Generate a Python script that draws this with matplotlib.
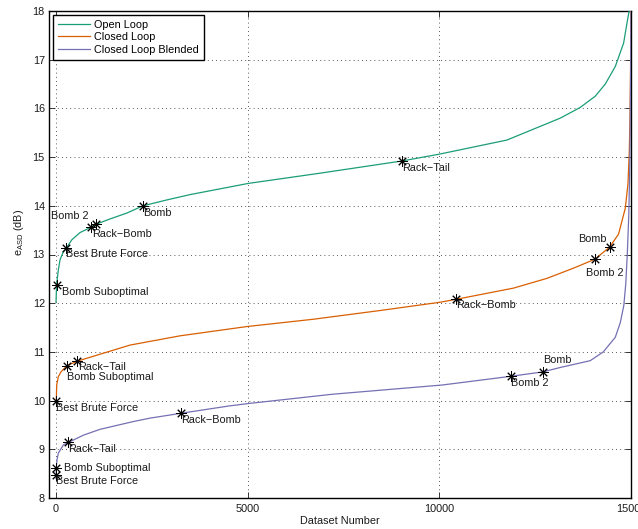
import matplotlib
matplotlib.use("Agg")
import matplotlib.pyplot as plt

plt.rcParams["font.family"] = ["Liberation Sans", "DejaVu Sans"]
plt.rcParams["mathtext.fontset"] = "custom"
plt.rcParams["mathtext.rm"] = "Liberation Sans"
plt.rcParams["mathtext.it"] = "Liberation Sans:italic"

# Sorted error curves (dataset number vs e_ASD in dB)
open_x = [0, 15, 60, 104, 191, 269, 410, 626, 914, 1044, 1409, 1845, 2271, 2889,
          3497, 5019, 6890, 9023, 9996, 11763, 13154, 13676, 14067, 14329, 14590,
          14807, 14895, 14955, 15000]
open_y = [12.02, 12.38, 12.68, 12.89, 13.06, 13.13, 13.30, 13.45, 13.56, 13.62,
          13.73, 13.85, 14.00, 14.12, 14.23, 14.46, 14.67, 14.92, 15.06, 15.35,
          15.80, 16.02, 16.25, 16.50, 16.86, 17.34, 17.75, 18.02, 19.5]

closed_x = [0, 10, 18, 60, 130, 287, 556, 1931, 3236, 4974, 6707, 8456, 10022,
            10440, 11936, 12807, 13502, 14050, 14441, 14676, 14851, 14921, 14955,
            14974, 14989, 14997]
closed_y = [9.96, 10.08, 10.32, 10.49, 10.59, 10.72, 10.81, 11.14, 11.33, 11.52,
            11.67, 11.85, 12.02, 12.08, 12.31, 12.51, 12.72, 12.90, 13.15, 13.42,
            13.95, 14.45, 15.1, 15.8, 16.9, 18.2]

blended_x = [0, 8, 25, 60, 191, 321, 713, 1148, 2018, 2453, 3263, 4515, 5019,
             7203, 10074, 11876, 12702, 13154, 13937, 14277, 14590, 14720, 14812,
             14864, 14903, 14942, 14968, 14989, 15000]
blended_y = [8.40, 8.62, 8.78, 8.92, 9.09, 9.14, 9.29, 9.41, 9.57, 9.64, 9.74,
             9.89, 9.94, 10.13, 10.32, 10.50, 10.59, 10.68, 10.82, 11.0, 11.3,
             11.6, 11.95, 12.4, 13.0, 13.8, 14.8, 16.5, 18.5]

# Named configurations marked on each curve
M = "\u2212"
open_names = ["Bomb Suboptimal", "Best Brute Force", "Bomb 2", f"Rack{M}Bomb", "Bomb", f"Rack{M}Tail"]
open_mx = [15, 269, 914, 1044, 2271, 9023]
open_my = [12.38, 13.13, 13.56, 13.62, 14.00, 14.92]

closed_names = ["Best Brute Force", "Bomb Suboptimal", f"Rack{M}Tail", f"Rack{M}Bomb", "Bomb 2", "Bomb"]
closed_mx = [0, 287, 556, 10440, 14050, 14441]
closed_my = [10.00, 10.72, 10.81, 12.08, 12.90, 13.15]

blended_names = ["Best Brute Force", "Bomb Suboptimal", f"Rack{M}Tail", f"Rack{M}Bomb", "Bomb 2", "Bomb"]
blended_mx = [0, 0, 321, 3263, 11876, 12702]
blended_my = [8.47, 8.62, 9.14, 9.74, 10.50, 10.59]

# Label placement (pixel offsets from the marker, horizontal alignment)
open_offsets = [(5, -7, "left"), (0, -6, "left"), (-3, 11, "right"),
                (-4, -10, "left"), (0, -7, "left"), (0, -7, "left")]
closed_offsets = [(0, -7, "left"), (0, -11, "left"), (1, -6, "left"),
                  (0, -6, "left"), (-9, -14, "left"), (-3, 8, "right")]
blended_offsets = [(0, -6, "left"), (8, 0, "left"), (0, -7, "left"),
                   (0, -7, "left"), (0, -7, "left"), (0, 12, "left")]

series_labels = ["Open Loop", "Closed Loop", "Closed Loop Blended"]
colors = ["#1b9e77", "#d95f02", "#7570b3"]

fig = plt.figure(figsize=(6.38, 5.29), dpi=100)
ax = fig.add_axes([49 / 638, 1 - 498 / 529, 582 / 638, 487 / 529])

curves = [(open_x, open_y), (closed_x, closed_y), (blended_x, blended_y)]
for (cx, cy), lab, col in zip(curves, series_labels, colors):
    ax.plot(cx, cy, color=col, lw=0.9, label=lab, zorder=3)

fs = 7.8
marks = [(open_names, open_mx, open_my, open_offsets),
         (closed_names, closed_mx, closed_my, closed_offsets),
         (blended_names, blended_mx, blended_my, blended_offsets)]
for names, mx, my, offs in marks:
    ax.plot(mx, my, linestyle="none", marker=(8, 2, 0), ms=7.5, mew=0.7,
            color="black", zorder=4)
    for name, x, y, (dx, dy, ha) in zip(names, mx, my, offs):
        ax.annotate(name, (x, y), xytext=(dx, dy), textcoords="offset pixels",
                    ha=ha, va="center", fontsize=fs, color="#1a1a1a", zorder=5)

ax.set_xlim(-183, 15000)
ax.set_ylim(8, 18)
ax.set_xticks([0, 5000, 10000, 15000])
ax.set_yticks(range(8, 19))

ax.grid(True, color="#222222", linestyle=(0, (1, 4)), linewidth=0.6)
ax.set_axisbelow(True)
ax.tick_params(direction="in", length=4, width=0.6, top=True, right=True,
               labelsize=fs, colors="#1a1a1a")
ax.tick_params(axis="x", pad=4)
ax.tick_params(axis="y", pad=3)
for sp in ax.spines.values():
    sp.set_linewidth(1.0)
    sp.set_color("black")

ax.set_xlabel("Dataset Number", fontsize=fs, labelpad=1.5, color="#1a1a1a")
ax.set_ylabel(r"e$_{\mathregular{ASD}}$ (dB)", fontsize=fs, color="#1a1a1a")
ax.yaxis.set_label_coords(-0.04, 0.546)

leg = ax.legend(loc="upper left", bbox_to_anchor=(4 / 582, 1 - 4 / 487),
                borderaxespad=0, fontsize=fs, handlelength=3.0,
                handletextpad=0.35, labelspacing=0.22, borderpad=0.45,
                fancybox=False, framealpha=1, edgecolor="black")
leg.get_frame().set_linewidth(1.0)

fig.savefig("out.png", dpi=100)
